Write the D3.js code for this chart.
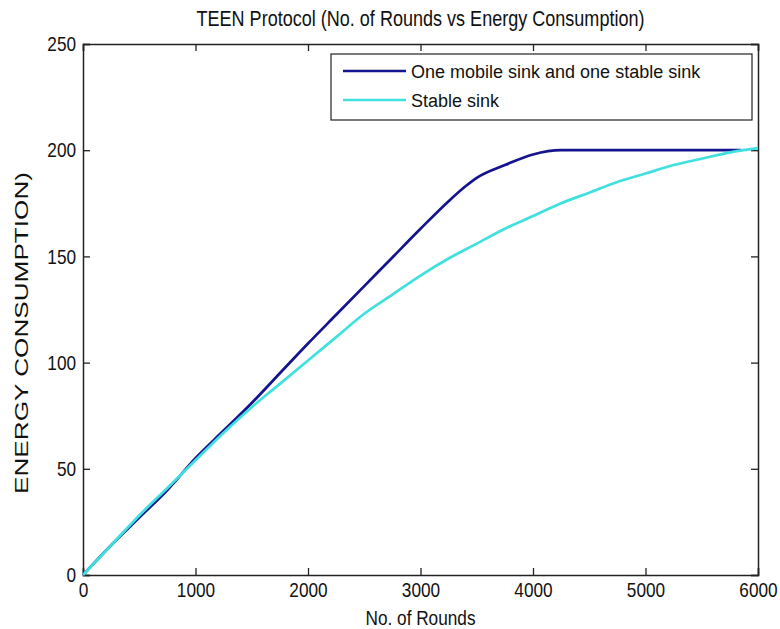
<!DOCTYPE html>
<html>
<head>
<meta charset="utf-8">
<script src="https://cdn.jsdelivr.net/npm/d3@7"></script>
<style>
  body { margin: 0; background: #fff; }
  text { font-family: "Liberation Sans", Arial, sans-serif; fill: #111; }
</style>
</head>
<body>
<div id="chart"></div>
<script>
// values
const mobileRounds = [0, 250, 500, 750, 1000, 1250, 1500, 1750, 2000, 2250, 2500, 2750, 3000, 3250, 3400, 3500, 3750, 4000, 4250, 4500, 5000, 5500, 5850]
const mobileEnergy = [0, 14, 27, 40, 55, 68, 81, 95, 109, 122.5, 136, 149.5, 163, 176, 183, 187, 193, 198, 200, 200, 200, 200, 200]
const stableRounds = [0, 250, 500, 750, 1000, 1250, 1500, 1750, 2000, 2250, 2500, 2750, 3000, 3250, 3500, 3750, 4000, 4250, 4500, 4750, 5000, 5250, 5500, 5750, 6000]
const stableEnergy = [0, 14, 28, 41, 54, 67, 79, 90, 101, 112, 123, 132, 141, 149, 156, 163, 169, 175, 180, 185, 189, 193, 196, 199, 201]
const xTicks = [0, 1000, 2000, 3000, 4000, 5000, 6000]
const yTicks = [0, 50, 100, 150, 200, 250]
const seriesNames = ["One mobile sink and one stable sink", "Stable sink"]
const seriesColors = ["#14148e", "#40e0e0"]

buildChart()

function buildChart() {
    let svg = d3.select("#chart")
                .append("svg")
                    .attr("width", 780)
                    .attr("height", 629)

    let box = {left: 83, right: 758, top: 44, bottom: 575}
    let squeeze = 0.82   // the labels in the picture are tall and narrow

    let x = d3.scaleLinear().domain([0, 6000]).range([box.left, box.right])
    let y = d3.scaleLinear().domain([0, 250]).range([box.bottom, box.top])

    // axes with inward ticks on all four sides
    let tick = 7
    svg.append("g")
        .attr("transform", `translate(0,${box.bottom})`)
        .call(d3.axisBottom(x).tickValues(xTicks).tickSize(-tick).tickPadding(7).tickFormat(d3.format("d")))
    svg.append("g")
        .attr("transform", `translate(0,${box.top})`)
        .call(d3.axisTop(x).tickValues(xTicks).tickSize(-tick).tickFormat(""))
    svg.append("g")
        .attr("transform", `translate(${box.left},0)`)
        .call(d3.axisLeft(y).tickValues(yTicks).tickSize(-tick).tickPadding(8.5).tickFormat(d3.format("d")))
    svg.append("g")
        .attr("transform", `translate(${box.right},0)`)
        .call(d3.axisRight(y).tickValues(yTicks).tickSize(-tick).tickFormat(""))

    svg.selectAll(".domain").attr("stroke", "#222").attr("stroke-width", 1.5)
    svg.selectAll(".tick line").attr("stroke", "#222").attr("stroke-width", 1.3)
    svg.selectAll(".tick text")
        .attr("font-size", 21)
        .attr("fill", "#111")
        .attr("font-family", "'Liberation Sans', Arial, sans-serif")
        .attr("transform", `scale(${squeeze},1)`)

    // lines
    let line = d3.line()
                .curve(d3.curveMonotoneX)
                .x(d => x(d[0]))
                .y(d => y(d[1]))

    let mobile = mobileRounds.map((r, i) => [r, mobileEnergy[i]])
    let stable = stableRounds.map((r, i) => [r, stableEnergy[i]])

    ;[mobile, stable].forEach((pts, i) => {
        svg.append("path")
            .datum(pts)
            .attr("d", line)
            .attr("fill", "none")
            .attr("stroke", seriesColors[i])
            .attr("stroke-width", 2.7)
            .attr("stroke-linejoin", "round")
    })

    // labels
    svg.append("text")
        .attr("transform", `translate(${(box.left + box.right) / 2},26) scale(${squeeze},1)`)
        .attr("text-anchor", "middle")
        .attr("font-size", 22)
        .text("TEEN Protocol (No. of Rounds vs Energy Consumption)")

    svg.append("text")
        .attr("transform", `translate(${(box.left + box.right) / 2},625) scale(${squeeze},1)`)
        .attr("text-anchor", "middle")
        .attr("font-size", 21)
        .text("No. of Rounds")

    svg.append("text")
        .attr("transform", `translate(28,333) rotate(-90)`)
        .attr("text-anchor", "middle")
        .attr("font-size", 18)
        .attr("textLength", 322)
        .attr("lengthAdjust", "spacingAndGlyphs")
        .text("ENERGY CONSUMPTION)")

    // legend
    let legend = svg.append("g")
    legend.append("rect")
        .attr("x", 331).attr("y", 54)
        .attr("width", 421).attr("height", 66)
        .attr("fill", "#fff")
        .attr("stroke", "#222")
        .attr("stroke-width", 1.2)

    seriesNames.forEach((name, i) => {
        let ly = 71 + i * 29
        legend.append("line")
            .attr("x1", 343).attr("x2", 406)
            .attr("y1", ly).attr("y2", ly)
            .attr("stroke", seriesColors[i])
            .attr("stroke-width", 2.7)
        legend.append("text")
            .attr("x", 411)
            .attr("y", ly + 7)
            .attr("font-size", 18)
            .attr("font-family", "'DejaVu Sans', sans-serif")
            .text(name)
    })
}
</script>
</body>
</html>
